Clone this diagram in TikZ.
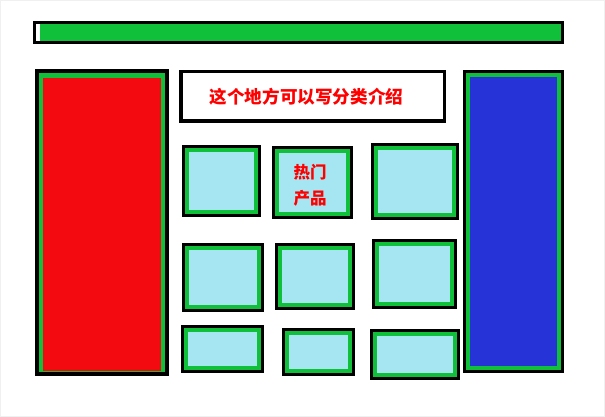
\documentclass[tikz,border=0pt]{standalone}
\usepackage{fontspec}
\newfontfamily\cjk{Noto Sans CJK SC}
\usetikzlibrary{positioning}

\definecolor{leafgreen}{RGB}{16,192,58}
\definecolor{sidered}{RGB}{242,10,16}
\definecolor{sideblue}{RGB}{38,51,214}
\definecolor{tilecyan}{RGB}{166,230,242}
\definecolor{labelred}{RGB}{255,0,0}

\begin{document}
\begin{tikzpicture}[
  x=1pt, y=-1pt,
  frame/.style={draw=black, line width=3pt, fill=leafgreen},
  plainframe/.style={draw=black, line width=3.5pt, fill=white},
  tile/.style={fill=tilecyan},
  label/.style={font=\cjk\bfseries\fontsize{17.6}{26}\selectfont, text=labelred, align=center},
]
  \useasboundingbox (0,0) rectangle (605,417);
  \draw[gray!12, line width=2pt] (0,0) rectangle (605,417);

  % Header bar
  \filldraw[draw=black, line width=3pt, fill=white] (34.5,22.5) rectangle (562.5,42.5);
  \fill[leafgreen] (40,24) rectangle (561,41);

  % Side panels
  \filldraw[frame, line width=4pt] (37,71) rectangle (167,374);
  \fill[sidered] (43,78) rectangle (161,371);
  \filldraw[frame] (464.5,71.5) rectangle (562.5,371.5);
  \fill[sideblue] (470,77) rectangle (557,366);

  % Category text box
  \filldraw[plainframe] (180.75,71.75) rectangle (444.25,121.25);
  \node[label] (intro) at (306.5,97) {这个地方可以写分类介绍};

  % Product tiles
  \foreach \xa/\ya/\xb/\yb in {182/145/261/217, 272/146/353/219, 371/143/459/220,
                               182/243/264/312, 275/243/355/310, 372/239/457/309,
                               181/325/264/373, 282/328/355/376, 370/329/460/380} {
    \filldraw[frame] ({\xa+1.5},{\ya+1.5}) rectangle ({\xb-1.5},{\yb-1.5});
    \fill[tile] ({\xa+7},{\ya+7}) rectangle ({\xb-7},{\yb-7});
  }
  \node[label, font=\cjk\bfseries\fontsize{16.5}{26}\selectfont] (hot) at (310,185) {热门\\产品};
\end{tikzpicture}
\end{document}
